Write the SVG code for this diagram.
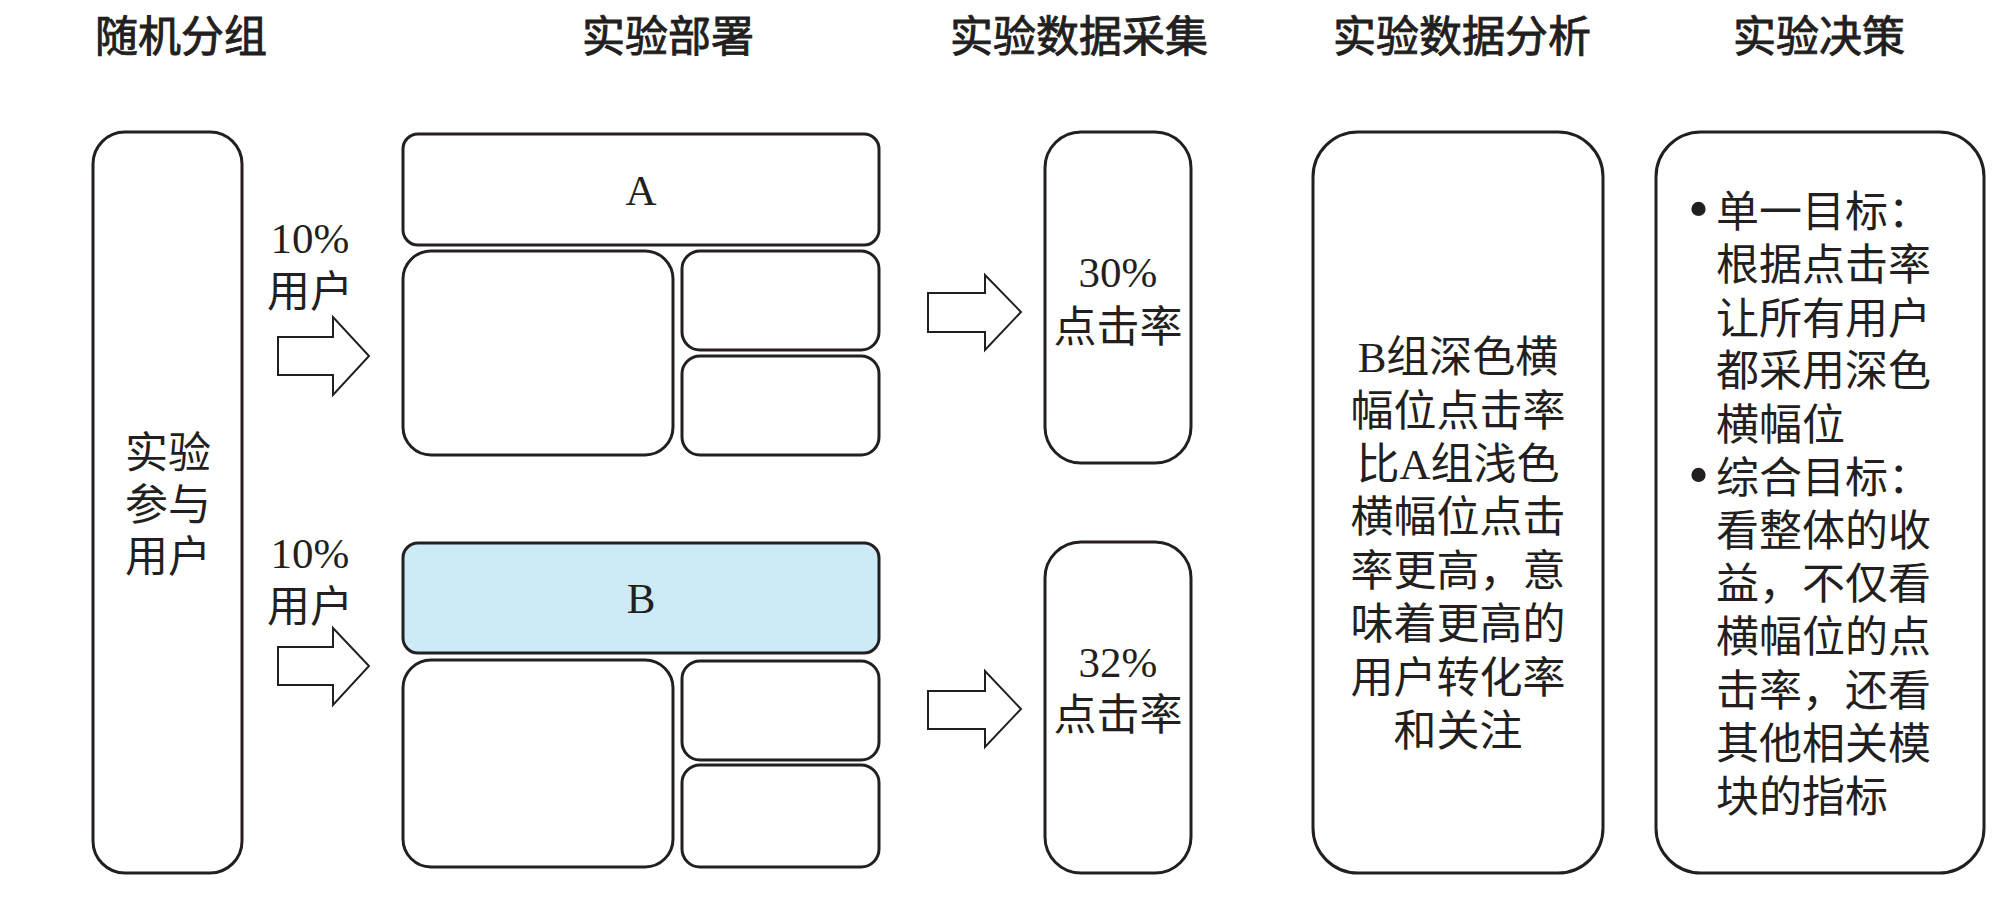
<svg xmlns="http://www.w3.org/2000/svg" width="2007" height="902" viewBox="0 0 2007 902">
<style>
.bg{fill:#ffffff}
.box{fill:#ffffff;stroke:#231f20;stroke-width:3}
.blue{fill:#cdebf7;stroke:#231f20;stroke-width:3}
.arrow{fill:#ffffff;stroke:#231f20;stroke-width:2;stroke-linejoin:miter}
.title{font-family:"Noto Sans CJK SC","Liberation Sans",sans-serif;font-size:43px;font-weight:normal;fill:#231f20;stroke:#231f20;stroke-width:0.9;text-anchor:middle}
.t{font-family:"Liberation Serif","Noto Sans CJK SC",serif;font-size:43px;fill:#231f20}
.c{text-anchor:middle}
.dot{font-size:60px}
</style>
<rect class="bg" x="0" y="0" width="2007" height="902"/>

<g id="titles">
<text class="title" x="181" y="52">随机分组</text>
<text class="title" x="668" y="52">实验部署</text>
<text class="title" x="1079" y="52">实验数据采集</text>
<text class="title" x="1462" y="52">实验数据分析</text>
<text class="title" x="1819" y="52">实验决策</text>
</g>

<g id="participants">
<rect class="box" x="93" y="132" width="149" height="741" rx="32"/>
<text class="t c" x="168" y="468">实验</text>
<text class="t c" x="168" y="520">参与</text>
<text class="t c" x="168" y="572">用户</text>
</g>

<g id="pageA">
<rect class="box" x="403" y="134" width="476" height="111" rx="15"/>
<text class="t c" x="641" y="205">A</text>
<rect class="box" x="403" y="251" width="270" height="204" rx="28"/>
<rect class="box" x="682" y="251" width="197" height="99" rx="18"/>
<rect class="box" x="682" y="356" width="197" height="99" rx="18"/>
</g>

<g id="pageB">
<rect class="blue" x="403" y="543" width="476" height="110" rx="15"/>
<text class="t c" x="641" y="613">B</text>
<rect class="box" x="403" y="660" width="270" height="207" rx="28"/>
<rect class="box" x="682" y="661" width="197" height="99" rx="18"/>
<rect class="box" x="682" y="765" width="197" height="102" rx="18"/>
</g>

<g id="dataA">
<rect class="box" x="1045" y="132" width="146" height="331" rx="36"/>
<text class="t c" x="1118" y="287">30%</text>
<text class="t c" x="1118" y="342">点击率</text>
</g>

<g id="dataB">
<rect class="box" x="1045" y="542" width="146" height="331" rx="36"/>
<text class="t c" x="1118" y="677">32%</text>
<text class="t c" x="1118" y="730">点击率</text>
</g>

<g id="analysis">
<rect class="box" x="1313" y="132" width="290" height="741" rx="45"/>
<text class="t c" x="1458" y="372">B组深色横</text>
<text class="t c" x="1458" y="426">幅位点击率</text>
<text class="t c" x="1458" y="479">比A组浅色</text>
<text class="t c" x="1458" y="532">横幅位点击</text>
<text class="t c" x="1458" y="586">率更高，意</text>
<text class="t c" x="1458" y="639">味着更高的</text>
<text class="t c" x="1458" y="693">用户转化率</text>
<text class="t c" x="1458" y="746">和关注</text>
</g>

<g id="decision">
<rect class="box" x="1656" y="132" width="328" height="741" rx="45"/>
<text class="t" x="1716" y="227"><tspan class="dot" x="1688" y="229">•</tspan><tspan x="1716" y="227">单一目标：</tspan></text>
<text class="t" x="1716" y="280">根据点击率</text>
<text class="t" x="1716" y="334">让所有用户</text>
<text class="t" x="1716" y="386">都采用深色</text>
<text class="t" x="1716" y="440">横幅位</text>
<text class="t" x="1716" y="493"><tspan class="dot" x="1688" y="495">•</tspan><tspan x="1716" y="493">综合目标：</tspan></text>
<text class="t" x="1716" y="546">看整体的收</text>
<text class="t" x="1716" y="599">益，不仅看</text>
<text class="t" x="1716" y="652">横幅位的点</text>
<text class="t" x="1716" y="706">击率，还看</text>
<text class="t" x="1716" y="759">其他相关模</text>
<text class="t" x="1716" y="812">块的指标</text>
</g>

<g id="connectors">
<text class="t c" x="310" y="253">10%</text>
<text class="t c" x="310" y="307">用户</text>
<path class="arrow" d="M278,337 H333 V317 L369,356 L333,395 V375 H278 Z"/>
<text class="t c" x="310" y="568">10%</text>
<text class="t c" x="310" y="622">用户</text>
<path class="arrow" d="M278,647 H333 V628 L369,666 L333,705 V685 H278 Z"/>
<path class="arrow" d="M928,293 H985 V275 L1021,312 L985,350 V332 H928 Z"/>
<path class="arrow" d="M928,691 H985 V671 L1021,709 L985,747 V729 H928 Z"/>
</g>
</svg>
